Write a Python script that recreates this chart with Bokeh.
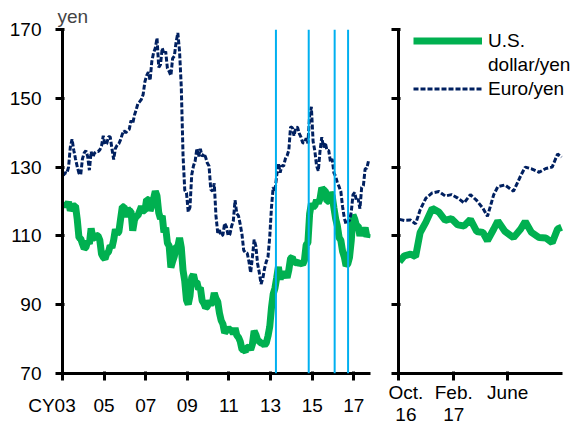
import pandas as pd
from bokeh.plotting import figure
from bokeh.layouts import row
from bokeh.models import Span, Legend, LegendItem, FixedTicker, Range1d
from bokeh.embed import file_html
from bokeh.resources import INLINE

# ---------------- data ----------------
# monthly values, Jan 2003 .. Sep 2017
start_month = "2003-01"
end_month = "2017-09"
usd_jpy = [
    118.7, 119.3, 118.6, 119.9, 117.4, 118.3, 118.7, 118.7, 114.8, 109.5, 109.2, 107.7,
    106.3, 106.7, 108.5, 107.7, 112.2, 109.4, 109.4, 110.2, 110.0, 108.8, 104.7, 103.8,
    103.3, 104.9, 105.3, 107.2, 106.6, 108.8, 111.9, 110.6, 111.2, 114.9, 118.5, 118.5,
    115.5, 117.9, 117.3, 117.1, 111.5, 114.6, 115.7, 115.9, 117.2, 118.6, 117.3, 117.3,
    120.6, 120.5, 117.3, 118.8, 120.8, 123.0, 121.6, 116.7, 115.0, 115.8, 111.0, 112.4,
    107.9, 107.1, 100.8, 102.6, 104.1, 106.9, 106.9, 109.4, 106.6, 100.0, 96.8, 91.3,
    90.1, 92.5, 97.9, 98.8, 96.6, 96.6, 94.5, 94.9, 91.2, 90.4, 89.1, 89.5,
    91.1, 90.1, 90.7, 93.4, 91.8, 90.9, 87.6, 85.4, 84.4, 81.8, 82.5, 83.3,
    82.6, 82.5, 81.6, 83.2, 81.1, 80.5, 79.3, 77.0, 76.8, 76.5, 77.5, 77.8,
    76.9, 78.5, 82.4, 81.3, 79.7, 79.3, 78.9, 78.7, 78.2, 78.9, 80.9, 83.6,
    89.1, 93.1, 94.8, 97.8, 101.0, 97.3, 99.7, 97.8, 99.2, 97.8, 100.1, 103.5,
    103.8, 102.1, 102.3, 102.5, 101.8, 102.1, 101.7, 102.9, 107.4, 108.0, 116.4, 119.4,
    118.3, 118.8, 120.4, 119.5, 120.8, 124.0, 123.3, 123.2, 120.1, 120.1, 122.6, 121.6,
    118.2, 115.0, 112.9, 109.5, 108.7, 105.5, 103.9, 101.3, 101.9, 103.8, 108.6, 116.1,
    114.9, 113.0, 112.9, 110.0, 112.2, 110.9, 112.4, 109.8, 110.8,
]
eur_jpy = [
    127.6, 128.4, 128.2, 130.0, 135.8, 138.1, 134.9, 132.4, 130.1, 128.2, 127.8, 132.4,
    134.1, 134.8, 133.1, 129.1, 134.5, 132.9, 134.1, 134.5, 134.5, 135.0, 136.1, 139.1,
    136.6, 136.8, 138.8, 138.8, 135.4, 132.2, 135.4, 136.4, 136.8, 138.0, 139.6, 140.6,
    140.0, 140.6, 141.0, 143.5, 142.7, 145.1, 146.7, 148.5, 149.0, 149.7, 151.1, 154.8,
    156.6, 157.6, 155.2, 160.7, 163.2, 164.6, 167.5, 159.0, 159.8, 164.6, 162.9, 163.6,
    158.7, 157.8, 156.6, 161.6, 162.3, 166.3, 169.0, 163.6, 153.2, 133.5, 123.3, 122.5,
    117.0, 118.3, 127.7, 130.3, 131.8, 135.4, 133.1, 135.3, 133.1, 133.9, 132.9, 131.2,
    130.3, 123.5, 123.0, 125.3, 115.8, 110.9, 111.7, 110.0, 110.3, 113.7, 112.7, 110.1,
    110.4, 112.8, 114.4, 120.4, 116.5, 115.8, 113.3, 110.4, 105.8, 105.1, 105.0, 102.6,
    99.3, 103.8, 108.9, 107.0, 101.9, 99.3, 96.0, 97.6, 100.5, 102.5, 103.9, 109.7,
    118.3, 124.2, 122.9, 127.5, 131.1, 128.4, 130.4, 130.3, 132.4, 133.3, 134.9, 141.7,
    141.5, 139.1, 141.5, 141.6, 139.8, 138.7, 137.1, 137.0, 138.4, 136.9, 145.0, 147.5,
    137.5, 134.7, 130.4, 128.9, 134.7, 138.7, 135.7, 137.1, 134.9, 134.8, 131.6, 132.4,
    128.3, 127.3, 125.4, 124.3, 122.9, 118.5, 115.2, 113.4, 114.2, 114.5, 116.9, 122.0,
    122.6, 120.2, 120.7, 117.9, 124.1, 124.6, 129.5, 129.7, 131.9,
]
policy_dates = ["2013-04-04", "2014-10-31", "2016-01-29", "2016-09-21"]
left_ticks = [2003, 2005, 2007, 2009, 2011, 2013, 2015, 2017]
left_tick_labels = ["CY03", "05", "07", "09", "11", "13", "15", "17"]
y_ticks = [70, 90, 110, 130, 150, 170]

# recent period (right panel)
recent_dates = ["2016-10-03", "2016-10-14", "2016-10-28", "2016-11-08", "2016-11-18",
                "2016-12-01", "2016-12-15", "2016-12-30", "2017-01-13", "2017-01-27",
                "2017-02-10", "2017-02-24", "2017-03-10", "2017-03-24", "2017-04-07",
                "2017-04-17", "2017-05-01", "2017-05-10", "2017-05-26", "2017-06-14",
                "2017-06-30", "2017-07-10", "2017-07-24", "2017-08-10", "2017-08-25",
                "2017-09-08", "2017-09-20", "2017-09-29"]
usd_recent = [102.5, 104.2, 104.7, 104.0, 110.9, 114.0, 118.0, 116.9, 114.5, 115.0,
              113.2, 112.9, 114.8, 111.3, 111.0, 108.6, 112.0, 114.3, 111.3, 109.5,
              112.0, 114.2, 111.0, 109.5, 109.4, 108.0, 112.0, 112.5]
eur_recent = [114.8, 114.5, 114.6, 113.5, 117.5, 121.0, 122.5, 122.9, 121.6, 122.0,
              121.0, 119.6, 122.0, 120.3, 118.0, 115.7, 122.0, 124.3, 124.8, 123.0,
              127.5, 130.0, 129.5, 128.5, 129.6, 130.0, 133.8, 132.9]
recent_start = "2016-10-01"
recent_end = "2017-10-01"
right_tick_dates = ["2016-10-01", "2017-02-01", "2017-06-01"]
right_tick_labels = ["Oct.\n16", "Feb.\n17", "June"]
legend_labels = ["U.S.", "dollar/yen", "Euro/yen"]

# ---------------- styling ----------------
GREEN = "#00B050"
NAVY = "#002060"
CYAN = "#00B0F0"
FONT = "Liberation Sans"
FS = "19px"

months = pd.date_range(start_month, end_month, freq="MS")
x_left = [m.year + (m.month - 0.5) / 12 for m in months]


def dec_year(s):
    t = pd.Timestamp(s)
    return t.year + (t.dayofyear - 0.5) / (366 if t.is_leap_year else 365)


def style(p):
    p.xgrid.visible = False
    p.ygrid.visible = False
    p.outline_line_color = None
    for ax in (p.xaxis[0], p.yaxis[0]):
        ax.axis_line_width = 3
        ax.axis_line_color = "black"
        ax.major_tick_line_width = 3
        ax.major_tick_line_color = "black"
        ax.major_tick_out = 7
        ax.minor_tick_line_color = None
        ax.major_label_text_font = FONT
        ax.major_label_text_font_size = FS
        ax.major_label_text_color = "black"


# ---------------- left panel ----------------
p1 = figure(width=388, height=427, output_backend="svg", toolbar_location=None,
            x_range=Range1d(2003, 2017.8), y_range=Range1d(70, 170),
            min_border_left=62, min_border_right=18, min_border_top=29, min_border_bottom=51)
style(p1)
p1.title.text = "yen"
p1.title.text_font = FONT
p1.title.text_font_size = FS
p1.title.text_font_style = "normal"
p1.title.align = "left"
p1.title.offset = -5
p1.title.standoff = 5
p1.line(x_left, usd_jpy, line_color=GREEN, line_width=7)
p1.line(x_left, eur_jpy, line_color=NAVY, line_width=3, line_dash="5 2")
for d in policy_dates:
    p1.add_layout(Span(location=dec_year(d), dimension="height", line_color=CYAN, line_width=2))
p1.xaxis[0].ticker = FixedTicker(ticks=left_ticks)
lab = dict(zip(left_ticks, left_tick_labels))
lab[2003] = "CY03\u00a0\u00a0\u00a0\u00a0"
p1.xaxis[0].major_label_overrides = lab
p1.xaxis[0].major_label_standoff = 14
p1.yaxis[0].ticker = FixedTicker(ticks=y_ticks)
p1.yaxis[0].major_label_standoff = 14

# ---------------- right panel ----------------
r0 = pd.Timestamp(recent_start)
x_recent = [(pd.Timestamp(d) - r0).days for d in recent_dates]
r_ticks = [(pd.Timestamp(d) - r0).days for d in right_tick_dates]
r_days = (pd.Timestamp(recent_end) - r0).days
axis_px, frame_px = 164, 184          # axis drawn over 164 px of a 184 px wide frame
p2 = figure(width=194, height=427, output_backend="svg", toolbar_location=None,
            x_range=Range1d(0, r_days * frame_px / axis_px), y_range=Range1d(70, 170),
            min_border_left=10, min_border_right=0, min_border_top=24, min_border_bottom=51)
style(p2)
g = p2.line(x_recent, usd_recent, line_color=GREEN, line_width=7)
n = p2.line(x_recent, eur_recent, line_color=NAVY, line_width=3, line_dash="5 2")
blank = p2.line([], [], line_alpha=0)
p2.xaxis[0].bounds = (0, r_days)
p2.xaxis[0].ticker = FixedTicker(ticks=r_ticks)
p2.xaxis[0].major_label_overrides = dict(zip(r_ticks, right_tick_labels))
p2.xaxis[0].major_label_standoff = 1
p2.xaxis[0].major_label_text_line_height = 1.05
p2.yaxis[0].ticker = FixedTicker(ticks=y_ticks)
p2.yaxis[0].major_label_overrides = {t: "" for t in y_ticks}
p2.yaxis[0].major_label_standoff = 0

legend = Legend(items=[LegendItem(label=legend_labels[0], renderers=[g]),
                       LegendItem(label=legend_labels[1], renderers=[blank]),
                       LegendItem(label=legend_labels[2], renderers=[n])],
                location=(15, 273), margin=0, padding=0, spacing=1,
                glyph_width=69, glyph_height=23, label_height=23, label_standoff=6,
                label_text_font=FONT, label_text_font_size=FS, label_text_color="black",
                border_line_color=None, background_fill_alpha=0)
p2.add_layout(legend)

layout = row(p1, p2)
open("out.html", "w").write(file_html(layout, INLINE))
